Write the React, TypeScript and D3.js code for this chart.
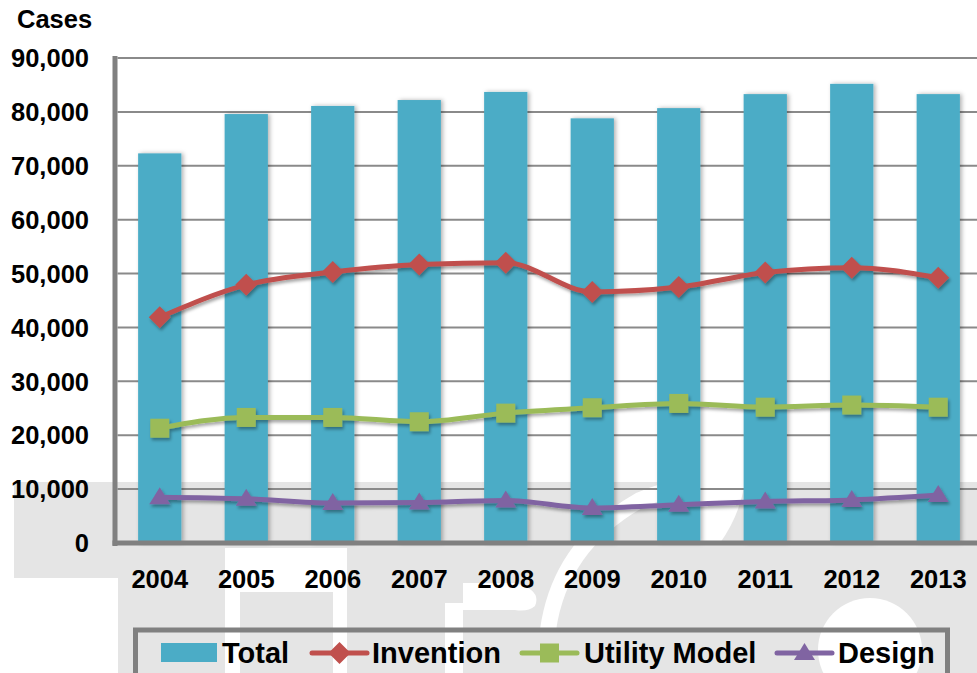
import React, { useEffect, useRef } from 'react';
import * as d3 from 'd3';

const years = ['2004', '2005', '2006', '2007', '2008', '2009', '2010', '2011', '2012', '2013'];
const total = [72300, 79600, 81100, 82200, 83700, 78800, 80700, 83300, 85200, 83300];
const invention = [41900, 47900, 50300, 51700, 52000, 46600, 47500, 50200, 51100, 49200];
const utilityModel = [21300, 23300, 23300, 22500, 24100, 25100, 25900, 25200, 25600, 25200];
const design = [8500, 8200, 7400, 7500, 7900, 6500, 7100, 7700, 8000, 8900];
const yTicks = [0, 10000, 20000, 30000, 40000, 50000, 60000, 70000, 80000, 90000];

const lineSeries = [
  { name: 'Invention', values: invention, color: '#C0504D', marker: 'diamond' },
  { name: 'Utility Model', values: utilityModel, color: '#9BBB59', marker: 'square' },
  { name: 'Design', values: design, color: '#8064A2', marker: 'triangle' },
];

const FONT = '"Liberation Sans", Arial, sans-serif';

function markerPath(type: string) {
  if (type === 'diamond') return 'M0,-11L11,0L0,11L-11,0Z';
  if (type === 'square') return 'M-9.5,-9.5H9.5V9.5H-9.5Z';
  return 'M0,-10L10.5,7L-10.5,7Z';
}

export default function App() {
  const svgRef = useRef<SVGSVGElement>(null);

  useEffect(() => {
    const width = 977;
    const height = 673;
    const plot = { left: 116.5, right: 981.5, top: 58, bottom: 543 };

    const svg = d3.select(svgRef.current).attr('width', width).attr('height', height);
    svg.selectAll('*').remove();

    const defs = svg.append('defs');
    defs
      .append('filter')
      .attr('id', 'barShadow')
      .attr('x', '-20%')
      .attr('width', '150%')
      .append('feDropShadow')
      .attr('dx', 2)
      .attr('dy', 0)
      .attr('stdDeviation', 2)
      .attr('flood-color', '#000')
      .attr('flood-opacity', 0.3);
    defs
      .append('filter')
      .attr('id', 'lineShadow')
      .attr('y', '-30%')
      .attr('height', '180%')
      .append('feDropShadow')
      .attr('dx', 1.5)
      .attr('dy', 2.5)
      .attr('stdDeviation', 1.5)
      .attr('flood-color', '#000')
      .attr('flood-opacity', 0.35);

    // watermark in the background
    const wm = svg.append('g');
    const grey = '#e5e5e5';
    wm.append('rect').attr('x', 14).attr('y', 482).attr('width', 963).attr('height', 191).attr('fill', grey);
    wm.append('rect').attr('x', 14).attr('y', 578).attr('width', 104).attr('height', 95).attr('fill', '#fff');
    wm.append('rect').attr('x', 225).attr('y', 548).attr('width', 15).attr('height', 125).attr('fill', '#fff');
    wm.append('rect').attr('x', 240).attr('y', 548).attr('width', 93).attr('height', 44).attr('fill', '#fff');
    wm.append('rect').attr('x', 333).attr('y', 548).attr('width', 14).attr('height', 125).attr('fill', '#fff');
    wm.append('rect').attr('x', 445).attr('y', 603).attr('width', 18).attr('height', 70).attr('fill', '#fff');
    wm.append('path').attr('d', 'M463,583H515Q542,590 535,606Q528,612 515,610H463Z').attr('fill', '#fff');
    wm.append('path')
      .attr('d', 'M548,630Q560,545 640,500Q690,478 760,482')
      .attr('fill', 'none')
      .attr('stroke', '#fff')
      .attr('stroke-width', 16);
    wm.append('path').attr('d', 'M700,482H745Q740,515 720,543H700Z').attr('fill', '#fff');
    wm.append('circle').attr('cx', 870).attr('cy', 650).attr('r', 52).attr('fill', '#fff');

    const x = d3
      .scaleBand()
      .domain(years)
      .range([plot.left, plot.right])
      .paddingInner(0.5)
      .paddingOuter(0.25);
    const y = d3.scaleLinear().domain([0, 90000]).range([plot.bottom, plot.top]);

    // gridlines
    svg
      .append('g')
      .selectAll('line')
      .data(yTicks.filter((t) => t > 0))
      .join('line')
      .attr('x1', plot.left + 1)
      .attr('x2', width)
      .attr('y1', (d) => y(d))
      .attr('y2', (d) => y(d))
      .attr('stroke', '#8a8a8a')
      .attr('stroke-width', 2);

    // bars
    svg
      .append('g')
      .attr('filter', 'url(#barShadow)')
      .selectAll('rect')
      .data(total)
      .join('rect')
      .attr('x', (_, i) => x(years[i]) as number)
      .attr('width', x.bandwidth())
      .attr('y', (d) => y(d))
      .attr('height', (d) => plot.bottom - y(d))
      .attr('fill', '#4BACC6');

    // axes lines
    svg
      .append('line')
      .attr('x1', 115)
      .attr('x2', 115)
      .attr('y1', plot.top - 2)
      .attr('y2', plot.bottom + 3)
      .attr('stroke', '#808080')
      .attr('stroke-width', 5);
    svg
      .append('line')
      .attr('x1', 112.5)
      .attr('x2', width)
      .attr('y1', plot.bottom)
      .attr('y2', plot.bottom)
      .attr('stroke', '#808080')
      .attr('stroke-width', 5);

    // lines and markers
    const cx = (i: number) => (x(years[i]) as number) + x.bandwidth() / 2;
    const lineGen = d3
      .line<number>()
      .x((_, i) => cx(i))
      .y((d) => y(d))
      .curve(d3.curveMonotoneX);

    lineSeries.forEach((s) => {
      const g = svg.append('g').attr('filter', 'url(#lineShadow)');
      g.append('path')
        .attr('d', lineGen(s.values))
        .attr('fill', 'none')
        .attr('stroke', s.color)
        .attr('stroke-width', 5)
        .attr('stroke-linejoin', 'round');
      g.selectAll('path.m')
        .data(s.values)
        .join('path')
        .attr('class', 'm')
        .attr('d', markerPath(s.marker))
        .attr('transform', (d, i) => `translate(${cx(i)},${y(d)})`)
        .attr('fill', s.color);
    });

    // y labels
    svg
      .append('g')
      .selectAll('text')
      .data(yTicks)
      .join('text')
      .attr('x', 89)
      .attr('y', (d) => y(d))
      .attr('dy', '0.36em')
      .attr('text-anchor', 'end')
      .attr('font-family', FONT)
      .attr('font-weight', 'bold')
      .attr('font-size', 25.5)
      .text((d) => d3.format(',')(d));

    svg
      .append('text')
      .attr('x', 17)
      .attr('y', 28)
      .attr('font-family', FONT)
      .attr('font-weight', 'bold')
      .attr('font-size', 25.5)
      .text('Cases');

    // x labels
    svg
      .append('g')
      .selectAll('text')
      .data(years)
      .join('text')
      .attr('x', (d) => (x(d) as number) + x.bandwidth() / 2)
      .attr('y', 588)
      .attr('text-anchor', 'middle')
      .attr('font-family', FONT)
      .attr('font-weight', 'bold')
      .attr('font-size', 25.5)
      .text((d) => d);

    // legend
    const lg = svg.append('g');
    lg.append('rect')
      .attr('x', 135.5)
      .attr('y', 630)
      .attr('width', 812)
      .attr('height', 70)
      .attr('fill', 'none')
      .attr('stroke', '#808080')
      .attr('stroke-width', 5);
    const legendY = 653;
    lg.append('rect').attr('x', 161).attr('y', 643).attr('width', 56).attr('height', 19).attr('fill', '#4BACC6');
    const legendText = (tx: number, label: string) =>
      lg
        .append('text')
        .attr('x', tx)
        .attr('y', 663)
        .attr('font-family', FONT)
        .attr('font-weight', 'bold')
        .attr('font-size', 29)
        .text(label);
    legendText(222, 'Total');
    const legendPos = [
      { lx: 312, tx: 372 },
      { lx: 522, tx: 584 },
      { lx: 777, tx: 838 },
    ];
    lineSeries.forEach((s, i) => {
      const p = legendPos[i];
      lg.append('line')
        .attr('x1', p.lx)
        .attr('x2', p.lx + 55)
        .attr('y1', legendY)
        .attr('y2', legendY)
        .attr('stroke', s.color)
        .attr('stroke-width', 5)
        .attr('stroke-linecap', 'round');
      lg.append('path')
        .attr('d', markerPath(s.marker))
        .attr('transform', `translate(${p.lx + 27.5},${legendY})`)
        .attr('fill', s.color);
      legendText(p.tx, s.name);
    });
  }, []);

  return <svg ref={svgRef} style={{ position: 'absolute', left: 0, top: 0, display: 'block' }} />;
}
